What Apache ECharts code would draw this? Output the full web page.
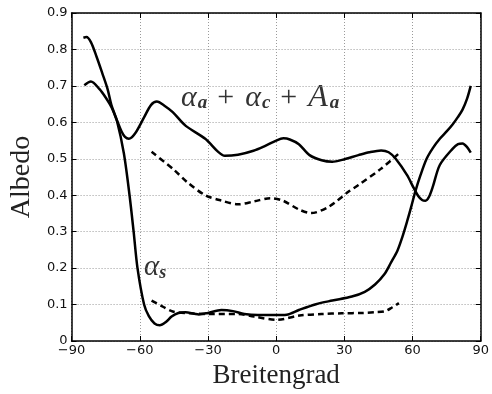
<!DOCTYPE html>
<html><head><meta charset="utf-8">
<script src="https://cdn.jsdelivr.net/npm/echarts@6/dist/echarts.min.js"></script>
<style>html,body{margin:0;padding:0;background:#fff}#c{width:492px;height:394px}</style>
</head><body><div id="c"></div>
<script>
// Total albedo (alpha_a + alpha_c + A_a), solid
const latTotal = [-84.4,-81.5,-77.7,-75,-72.5,-70,-68,-66.5,-64.8,-62,-58,-55,-52.5,-49,-45.5,-39.9,-31.2,-25.5,-22.6,-16.8,-10,-5,0,3.2,6,10,14.7,20,24.7,29,36.2,41,46.2,49.5,52.6,57.6,60.5,62.5,64.2,65.7,67.2,69,72,77.7,80,82,84,85.6];
const valTotal = [0.702,0.712,0.691,0.668,0.642,0.605,0.575,0.56,0.555,0.57,0.615,0.648,0.657,0.645,0.628,0.591,0.555,0.519,0.508,0.511,0.522,0.535,0.55,0.556,0.553,0.54,0.51,0.496,0.492,0.497,0.51,0.518,0.523,0.518,0.50,0.455,0.42,0.398,0.387,0.385,0.395,0.425,0.483,0.528,0.54,0.542,0.532,0.517];
// Surface albedo alpha_s, solid
const latSurf = [-84.8,-83.5,-81.5,-79,-76.5,-74.1,-72.5,-70,-67,-64.5,-62.7,-61,-58.1,-56,-53.5,-51.2,-48.5,-46,-43,-39.9,-36,-34,-30,-24.1,-19,-14,-8,0,4.6,10,17.5,24.7,33.3,39,43.5,47.6,50.5,53.3,55.5,57.6,59.5,61.2,63.5,66.2,69,72,75,77.7,80,82,84,85.6];
const valSurf = [0.832,0.834,0.82,0.78,0.735,0.69,0.648,0.603,0.515,0.40,0.30,0.20,0.10,0.068,0.048,0.043,0.052,0.067,0.077,0.079,0.075,0.073,0.077,0.085,0.082,0.074,0.071,0.071,0.072,0.085,0.101,0.111,0.122,0.135,0.155,0.183,0.215,0.247,0.285,0.328,0.37,0.41,0.455,0.50,0.53,0.555,0.575,0.595,0.615,0.635,0.665,0.70];
// Dashed upper
const latDashA = [-54.8,-45,-39,-31.2,-24,-16.8,-9.7,-2.5,3,10.3,15.4,23.3,31.9,36.2,46.2,54.8];
const valDashA = [0.519,0.47,0.435,0.40,0.385,0.375,0.383,0.392,0.385,0.36,0.351,0.369,0.41,0.428,0.473,0.519];
// Dashed lower
const latDashB = [-54.8,-49.8,-45.5,-38,-31.2,-16.8,-9.7,0.3,10.3,20,28.9,38,43.3,48,51,54];
const valDashB = [0.111,0.094,0.081,0.076,0.074,0.074,0.067,0.058,0.07,0.074,0.076,0.077,0.079,0.082,0.092,0.104];

const xTicks = [-90,-60,-30,0,30,60,90];
const yTicks = [0,0.1,0.2,0.3,0.4,0.5,0.6,0.7,0.8,0.9];

const zip = (a,b)=>a.map((v,i)=>[v,b[i]]);
const chart = echarts.init(document.getElementById('c'));
const tickFont = {fontFamily:'DejaVu Sans', fontSize:13, color:'#111'};
const split = {show:true, lineStyle:{color:'#9a9a9a', type:[1,2], width:1}};
const axLine = {show:true, onZero:false, lineStyle:{color:'#000', width:1.5}};
const ticks = {show:true, inside:true, length:5, lineStyle:{color:'#000'}};
chart.setOption({
  animation:false,
  grid:{left:63, right:10, top:13, bottom:50, containLabel:false},
  xAxis:[
    {type:'value', min:-90, max:90, interval:30, position:'bottom',
     axisLine:axLine, axisTick:ticks,
     axisLabel:Object.assign({margin:3, formatter:v=>String(v).replace('-','\u2212')}, tickFont),
     splitLine:split,
     name:'Breitengrad', nameLocation:'middle', nameGap:21,
     nameTextStyle:{fontFamily:'Liberation Serif', fontSize:27, color:'#222'}},
    {type:'value', min:-90, max:90, interval:30, position:'top',
     axisLine:axLine, axisTick:ticks, axisLabel:{show:false}, splitLine:{show:false}}
  ],
  yAxis:[
    {type:'value', min:0, max:0.9, interval:0.1, position:'left',
     axisLine:axLine, axisTick:ticks,
     axisLabel:Object.assign({margin:4, formatter:v=>v===0?'0':v.toFixed(1)}, tickFont),
     splitLine:split,
     name:'Albedo', nameLocation:'middle', nameGap:35,
     nameTextStyle:{fontFamily:'Liberation Serif', fontSize:28, color:'#222'}},
    {type:'value', min:0, max:0.9, interval:0.1, position:'right',
     axisLine:axLine, axisTick:ticks, axisLabel:{show:false}, splitLine:{show:false}}
  ],
  series:[
    {type:'line', data:zip(latTotal,valTotal), smooth:0.3, showSymbol:false, lineStyle:{color:'#000', width:2.5}},
    {type:'line', data:zip(latSurf,valSurf), smooth:0.3, showSymbol:false, lineStyle:{color:'#000', width:2.5}},
    {type:'line', data:zip(latDashA,valDashA), smooth:0.3, showSymbol:false, lineStyle:{color:'#000', width:2.5, type:[6,4]}},
    {type:'line', data:zip(latDashB,valDashB), smooth:0.3, showSymbol:false, lineStyle:{color:'#000', width:2.5, type:[6,4]}}
  ],
  graphic:[
    {type:'text', left:181, top:82, style:{
      text:'{a|α}{s|a}{p|+}{a|α}{s|c}{p|+}{A|A}{s|a}',
      rich:{
        a:{fontFamily:'Liberation Serif', fontStyle:'italic', fontSize:30, fill:'#333', padding:[0,1,0,0]},
        A:{fontFamily:'Liberation Serif', fontStyle:'italic', fontSize:32, fill:'#333', padding:[0,2,0,0]},
        p:{fontFamily:'Liberation Serif', fontSize:30, fill:'#333', padding:[0,11,0,10]},
        s:{fontFamily:'Liberation Serif', fontStyle:'italic', fontWeight:'bold', fontSize:19, fill:'#333', padding:[11,0,0,0]}
      }}},
    {type:'text', left:144, top:253, style:{
      text:'{a|α}{s|s}',
      rich:{
        a:{fontFamily:'Liberation Serif', fontStyle:'italic', fontSize:29, fill:'#333'},
        s:{fontFamily:'Liberation Serif', fontStyle:'italic', fontWeight:'bold', fontSize:18, fill:'#333', padding:[11,0,0,0]}
      }}}
  ]
});
</script></body></html>
